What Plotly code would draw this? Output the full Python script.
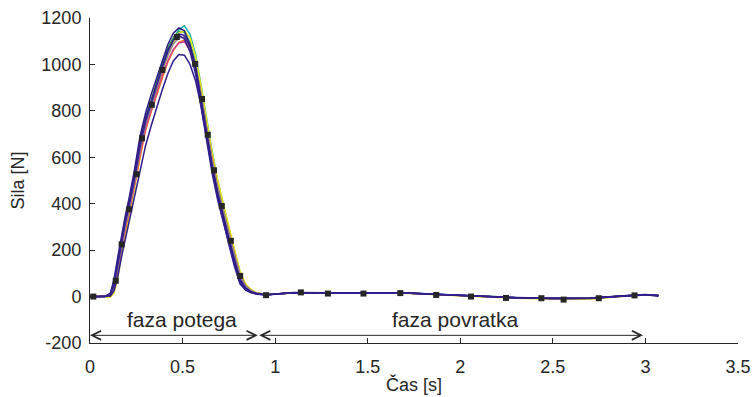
import plotly.graph_objects as go

# time grid shared by the individual trials [s]
t_trial = [0.00, 0.08, 0.11, 0.13, 0.15, 0.17, 0.19, 0.21, 0.24, 0.27, 0.30, 0.33, 0.36, 0.39,
           0.42, 0.45, 0.48, 0.51, 0.54, 0.57, 0.60, 0.63, 0.66, 0.69, 0.72, 0.75, 0.78, 0.81,
           0.84, 0.87, 0.90, 0.95, 1.10, 1.30, 1.50, 1.70, 1.90, 2.10, 2.30, 2.50, 2.70, 2.90,
           3.00, 3.07]

# force values of each trial [N]
f_teal = [0, 0, 4, 35, 115, 215, 295, 365, 485, 625, 740, 820, 900, 985, 1050, 1110, 1150, 1166,
          1130, 1045, 910, 765, 625, 500, 395, 295, 200, 105, 52, 28, 16, 9, 17, 16, 15, 16, 9, 1,
          -4, -6, -6, 4, 8, 5]
f_green = [0, 0, 10, 60, 150, 250, 330, 400, 525, 670, 770, 845, 925, 1005, 1070, 1115, 1143, 1138,
           1095, 1010, 880, 730, 595, 475, 375, 278, 185, 95, 46, 24, 14, 8, 16, 15, 14, 15, 8, 0,
           -5, -8, -7, 4, 8, 5]
f_yellow = [0, -2, -3, 15, 80, 175, 265, 340, 460, 600, 720, 805, 885, 965, 1035, 1095, 1135, 1145,
            1115, 1035, 905, 760, 620, 500, 398, 300, 205, 110, 55, 30, 17, 9, 15, 14, 13, 14, 7, -1,
            -7, -12, -12, 2, 7, 4]
f_orange = [0, 0, 3, 35, 110, 205, 285, 355, 470, 605, 715, 795, 870, 945, 1010, 1060, 1095, 1105,
            1070, 995, 870, 725, 590, 470, 370, 275, 185, 95, 48, 26, 15, 8, 16, 15, 14, 15, 8, 0,
            -5, -8, -7, 4, 8, 5]
f_magenta = [0, 0, 4, 40, 120, 215, 295, 362, 480, 615, 725, 802, 880, 955, 1015, 1065, 1092, 1098,
             1062, 985, 860, 715, 580, 460, 360, 268, 178, 90, 44, 24, 14, 8, 16, 15, 14, 15, 8, 0,
             -5, -8, -7, 4, 8, 5]
f_gray = [0, 0, 5, 42, 125, 222, 302, 372, 492, 630, 742, 818, 897, 975, 1038, 1088, 1115, 1118,
          1080, 1000, 870, 722, 587, 467, 366, 272, 182, 92, 46, 25, 15, 8, 16, 15, 14, 15, 8, 0,
          -5, -8, -7, 4, 8, 5]
f_indigo_a = [-2, 0, 15, 75, 170, 265, 345, 420, 545, 690, 790, 870, 945, 1020, 1085, 1135, 1157,
              1145, 1085, 990, 850, 700, 560, 440, 340, 245, 150, 70, 35, 20, 12, 8, 18, 16, 15, 16,
              9, 1, -4, -7, -6, 5, 9, 5]
f_indigo_b = [-1, 0, 2, 25, 85, 170, 245, 310, 420, 545, 650, 735, 815, 890, 960, 1015, 1043, 1040,
              1000, 930, 820, 680, 545, 425, 320, 225, 130, 55, 28, 16, 10, 7, 17, 15, 14, 15, 8, 0,
              -5, -8, -8, 3, 7, 4]
f_indigo_c = [0, 0, 8, 50, 135, 235, 315, 385, 505, 645, 755, 830, 910, 990, 1055, 1105, 1132, 1125,
              1075, 985, 845, 695, 560, 445, 345, 250, 160, 75, 38, 20, 12, 8, 17, 15, 14, 15, 8, 0,
              -5, -8, -7, 4, 8, 5]
f_indigo_d = [0, 0, 12, 65, 155, 255, 335, 405, 525, 665, 765, 840, 915, 995, 1060, 1105, 1125, 1110,
              1055, 960, 815, 665, 530, 415, 318, 228, 140, 62, 32, 18, 11, 8, 17, 15, 14, 15, 8, 0,
              -5, -8, -7, 4, 8, 2]

# mean curve (black squares)
t_mean = [0.018, 0.139, 0.171, 0.212, 0.252, 0.281, 0.334, 0.391, 0.469, 0.568, 0.605, 0.636, 0.670,
          0.712, 0.761, 0.811, 0.951, 1.139, 1.285, 1.477, 1.676, 1.870, 2.058, 2.247, 2.438, 2.558,
          2.748, 2.941]
f_mean = [0, 68, 225, 376, 527, 682, 826, 976, 1118, 1002, 851, 697, 544, 390, 240, 89, 6, 18, 13,
          13, 15, 7, 0, -6, -7, -13, -7, 5]

# phase annotations
phase_labels = ["faza potega", "faza povratka"]
phase_bounds = [0.0, 0.914, 2.995]

x_ticks = [0, 0.5, 1, 1.5, 2, 2.5, 3, 3.5]
y_ticks = [-200, 0, 200, 400, 600, 800, 1000, 1200]

trials = [
    (f_teal, "#1BAFAF"),
    (f_green, "#2FA84F"),
    (f_yellow, "#E8E41A"),
    (f_orange, "#F07A1E"),
    (f_magenta, "#D23C8C"),
    (f_gray, "#8A8A8A"),
    (f_indigo_b, "#2E1B8C"),
    (f_indigo_c, "#3A2296"),
    (f_indigo_a, "#2B1A86"),
    (f_indigo_d, "#33208F"),
]

fig = go.Figure()
for vals, col in trials:
    fig.add_trace(go.Scatter(x=t_trial, y=vals, mode="lines",
                             line=dict(color=col, width=1.5), showlegend=False,
                             hoverinfo="skip"))
fig.add_trace(go.Scatter(x=t_mean, y=f_mean, mode="markers",
                         marker=dict(symbol="square", size=6, color="#262626"),
                         showlegend=False))

axcol = "#262626"
arrow_y = -167
anns = []
for i in range(2):
    a, b = phase_bounds[i], phase_bounds[i + 1]
    anns.append(dict(x=a, y=arrow_y, ax=b, ay=arrow_y, xref="x", yref="y", axref="x", ayref="y",
                     text="", showarrow=True, arrowside="end+start", arrowhead=5,
                     startarrowhead=5, arrowsize=1.8, startarrowsize=1.8, arrowwidth=1,
                     arrowcolor=axcol))
anns.append(dict(x=0.496, y=-100, xref="x", yref="y", text=phase_labels[0], showarrow=False,
                 font=dict(size=21, color=axcol, family="Liberation Sans, Arial")))
anns.append(dict(x=1.973, y=-97, xref="x", yref="y", text=phase_labels[1], showarrow=False,
                 font=dict(size=21, color=axcol, family="Liberation Sans, Arial")))

fig.update_layout(
    width=752, height=397,
    margin=dict(l=90, r=14, t=18, b=54),
    paper_bgcolor="white", plot_bgcolor="white",
    font=dict(family="Liberation Sans, Arial", size=18, color=axcol),
    annotations=anns,
    xaxis=dict(range=[0, 3.5], tickvals=x_ticks, ticktext=[str(v) for v in x_ticks],
               ticks="inside", ticklen=5, tickcolor=axcol, showline=True, linecolor=axcol,
               linewidth=1, showgrid=False, zeroline=False, ticklabelstandoff=7,
               automargin=False,
               title=dict(text="Čas [s]", font=dict(size=18), standoff=2)),
    yaxis=dict(range=[-200, 1200], tickvals=y_ticks, ticktext=[str(v) for v in y_ticks],
               ticks="inside", ticklen=5, tickcolor=axcol, showline=True, linecolor=axcol,
               linewidth=1, showgrid=False, zeroline=False, ticklabelstandoff=4,
               automargin=False,
               title=dict(text="Sila [N]", font=dict(size=18), standoff=12)),
)

fig.write_html("out.html")
